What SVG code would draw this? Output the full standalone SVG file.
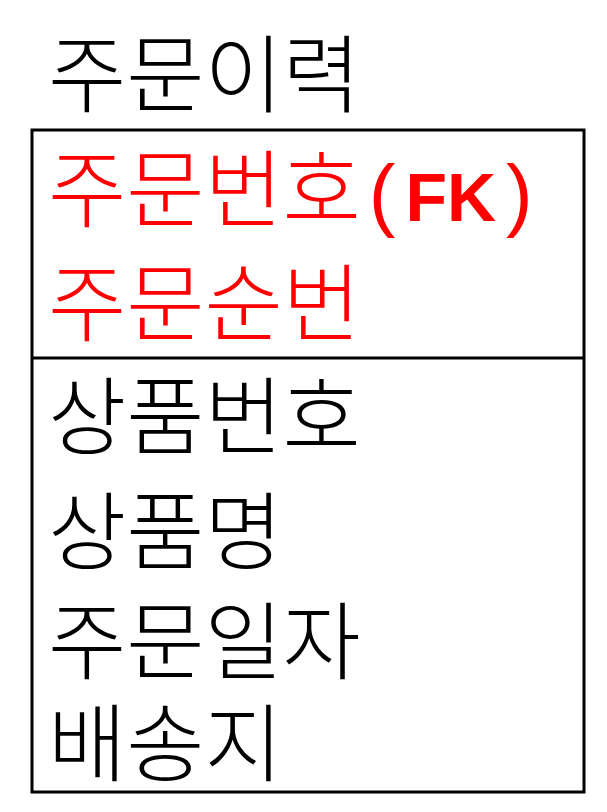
<svg xmlns="http://www.w3.org/2000/svg" width="607" height="812" viewBox="0 0 607 812">
<style>
text{font-family:"Noto Sans CJK KR","Noto Sans",sans-serif;font-size:85px;font-weight:300;fill:#000}
.pk{fill:#ff0000}
.fk{font-family:"Liberation Sans",sans-serif;font-weight:bold;font-size:68px}
.par{font-family:"Liberation Sans",sans-serif;font-weight:normal;font-size:80px}
</style>
<rect width="607" height="812" fill="#fff"/>
<g id="entity">
<text x="48" y="106">주문이력</text>
<rect x="32" y="130" width="552" height="662" fill="none" stroke="#000" stroke-width="3"/>
<line x1="32" y1="358" x2="584" y2="358" stroke="#000" stroke-width="3"/>
<text class="pk" x="48" y="221">주문번호<tspan class="par" dx="8">(</tspan><tspan class="fk" dx="10">FK</tspan><tspan class="par" dx="10">)</tspan></text>
<text class="pk" x="48" y="335">주문순번</text>
<text x="48" y="448">상품번호</text>
<text x="48" y="563">상품명</text>
<text x="48" y="673">주문일자</text>
<text x="48" y="775">배송지</text>
</g>
</svg>
